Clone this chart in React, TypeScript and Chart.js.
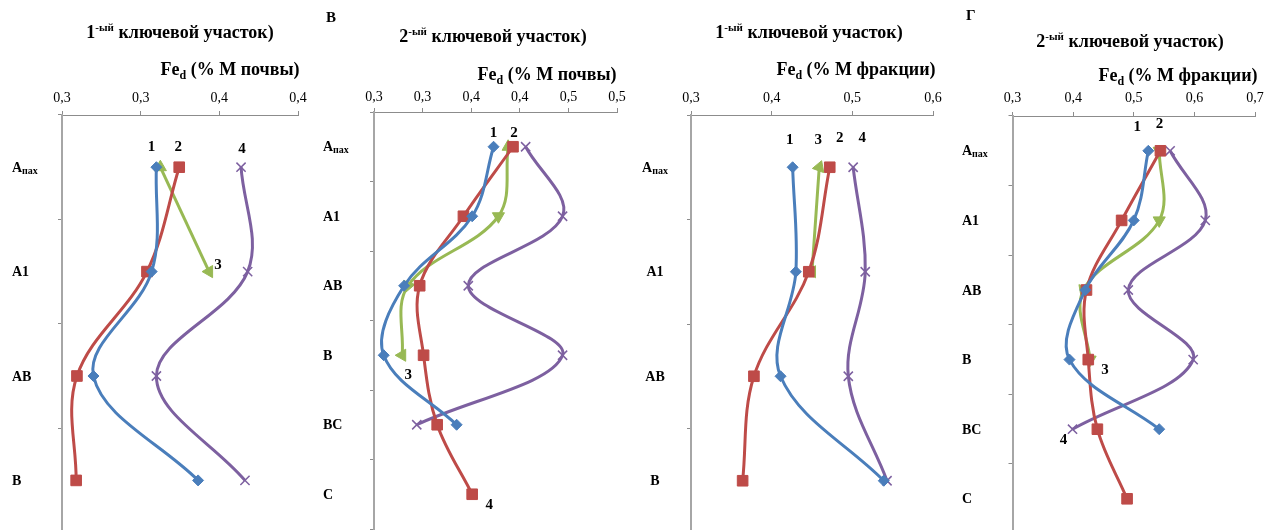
import React, { useEffect, useRef } from "react";
import { Chart, registerables } from "chart.js";

Chart.register(...registerables);

const BLUE = "#4A7EBB";
const RED = "#BE4B48";
const GREEN = "#98B954";
const PURPLE = "#7D60A0";
const AXIS = "#8C8C8C";
const SERIF = '"Liberation Serif", "Times New Roman", serif';
const CANVAS_H = 548;

// ---------- texts ----------
const TITLE_NUM_1 = "1";
const TITLE_NUM_2 = "2";
const TITLE_SUP = "-ый";
const TITLE_REST = " ключевой участок)";
const AXIS_FE = "Fe";
const AXIS_SUB = "d";
const AXIS_SOIL = " (% М почвы)";
const AXIS_FRACTION = " (% М фракции)";
const LETTER_V = "В";
const LETTER_G = "Г";

// ---------- panel 1: 1-ый участок, % М почвы ----------
const catsP1 = ["Aпах", "A1", "AB", "B"];
const p1s1 = [0.31, 0.307, 0.27, 0.3365];
const p1s2 = [0.3245, 0.304, 0.2595, 0.259];
const p1s3 = [0.3125, 0.3435, null, null];
const p1s4 = [0.3638, 0.368, 0.31, 0.3663];
const ticksP1 = ["0,3", "0,3", "0,4", "0,4"];

// ---------- panel 2 (В): 2-ый участок, % М почвы ----------
const catsP2 = ["Aпах", "A1", "AB", "B", "BC", "C"];
const p2s1 = [0.373, 0.351, 0.281, 0.26, 0.335, null];
const p2s2 = [0.393, 0.342, 0.297, 0.301, 0.315, 0.351];
const p2s3 = [0.388, 0.378, 0.285, 0.279, null, null];
const p2s4 = [0.406, 0.444, 0.347, 0.444, 0.294, null];
const ticksP2 = ["0,3", "0,3", "0,4", "0,4", "0,5", "0,5"];

// ---------- panel 3: 1-ый участок, % М фракции ----------
const catsP3 = ["Aпах", "A1", "AB", "B"];
const p3s1 = [0.426, 0.43, 0.411, 0.539];
const p3s2 = [0.472, 0.446, 0.378, 0.364];
const p3s3 = [0.459, 0.45, null, null];
const p3s4 = [0.501, 0.516, 0.495, 0.543];
const ticksP3 = ["0,3", "0,4", "0,5", "0,6"];

// ---------- panel 4 (Г): 2-ый участок, % М фракции ----------
const catsP4 = ["Aпах", "A1", "AB", "B", "BC", "C"];
const p4s1 = [0.524, 0.5, 0.42, 0.394, 0.542, null];
const p4s2 = [0.544, 0.48, 0.422, 0.425, 0.44, 0.489];
const p4s3 = [0.542, 0.542, 0.417, 0.428, null, null];
const p4s4 = [0.56, 0.618, 0.491, 0.598, 0.399, null];
const ticksP4 = ["0,3", "0,4", "0,5", "0,6", "0,7"];

type Note = { text: string; ds: number; idx: number; dx: number; dy: number };

type Panel = {
  canvasLeft: number;
  canvasWidth: number;
  areaLeft: number;
  areaRight: number;
  areaTop: number;
  areaBottom: number;
  tickPad: number;
  cats: string[];
  series: (number | null)[][];
  min: number;
  max: number;
  step: number;
  tickLabels: string[];
  greenRot: number[];
  labelX: number;
  labelAlign: "left" | "center";
  notes: Note[];
};

const panels: Panel[] = [
  {
    canvasLeft: 0,
    canvasWidth: 322,
    areaLeft: 62,
    areaRight: 298,
    areaTop: 115,
    areaBottom: 115 + 4 * 104.4,
    tickPad: 4,
    cats: catsP1,
    series: [p1s1, p1s2, p1s3, p1s4],
    min: 0.25,
    max: 0.4,
    step: 0.05,
    tickLabels: ticksP1,
    greenRot: [0, 150],
    labelX: 12,
    labelAlign: "left",
    notes: [
      { text: "1", ds: 0, idx: 0, dx: -5, dy: -20 },
      { text: "2", ds: 1, idx: 0, dx: -1, dy: -20 },
      { text: "4", ds: 3, idx: 0, dx: 1, dy: -18 },
      { text: "3", ds: 2, idx: 1, dx: 9, dy: -6 },
    ],
  },
  {
    canvasLeft: 318,
    canvasWidth: 324,
    areaLeft: 374,
    areaRight: 617,
    areaTop: 112,
    areaBottom: 112 + 6 * 69.5,
    tickPad: 2,
    cats: catsP2,
    series: [p2s1, p2s2, p2s3, p2s4],
    min: 0.25,
    max: 0.5,
    step: 0.05,
    tickLabels: ticksP2,
    greenRot: [0, 180, 200, 150],
    labelX: 323,
    labelAlign: "left",
    notes: [
      { text: "1", ds: 0, idx: 0, dx: 0, dy: -14 },
      { text: "2", ds: 1, idx: 0, dx: 1, dy: -14 },
      { text: "3", ds: 2, idx: 3, dx: 6, dy: 20 },
      { text: "4", ds: 1, idx: 5, dx: 17, dy: 11 },
    ],
  },
  {
    canvasLeft: 636,
    canvasWidth: 322,
    areaLeft: 691,
    areaRight: 933,
    areaTop: 115,
    areaBottom: 115 + 4 * 104.5,
    tickPad: 4,
    cats: catsP3,
    series: [p3s1, p3s2, p3s3, p3s4],
    min: 0.3,
    max: 0.6,
    step: 0.1,
    tickLabels: ticksP3,
    greenRot: [20, 150],
    labelX: 655,
    labelAlign: "center",
    notes: [
      { text: "1", ds: 0, idx: 0, dx: -3, dy: -27 },
      { text: "3", ds: 2, idx: 0, dx: -1, dy: -27 },
      { text: "2", ds: 1, idx: 0, dx: 10, dy: -29 },
      { text: "4", ds: 3, idx: 0, dx: 9, dy: -29 },
    ],
  },
  {
    canvasLeft: 955,
    canvasWidth: 330,
    areaLeft: 1012.5,
    areaRight: 1255,
    areaTop: 116,
    areaBottom: 116 + 6 * 69.6,
    tickPad: 5,
    cats: catsP4,
    series: [p4s1, p4s2, p4s3, p4s4],
    min: 0.3,
    max: 0.7,
    step: 0.1,
    tickLabels: ticksP4,
    greenRot: [180, 180, 200, 180],
    labelX: 962,
    labelAlign: "left",
    notes: [
      { text: "1", ds: 0, idx: 0, dx: -11, dy: -24 },
      { text: "2", ds: 1, idx: 0, dx: -1, dy: -27 },
      { text: "3", ds: 2, idx: 3, dx: 15, dy: 11 },
      { text: "4", ds: 3, idx: 4, dx: -9, dy: 11 },
    ],
  },
];

const seriesStyles = [
  { color: BLUE, pointStyle: "rectRot", radius: 5.5, pbw: 1 },
  { color: RED, pointStyle: "rect", radius: 7.5, pbw: 1 },
  { color: GREEN, pointStyle: "triangle", radius: 7, pbw: 1 },
  { color: PURPLE, pointStyle: "crossRot", radius: 6.5, pbw: 1.5 },
];

function PanelChart({ p }: { p: Panel }) {
  const ref = useRef<HTMLCanvasElement | null>(null);
  useEffect(() => {
    const canvas = ref.current;
    if (!canvas) return;
    const textPlugin = {
      id: "panelText",
      afterDatasetsDraw(chart: any) {
        const ctx = chart.ctx as CanvasRenderingContext2D;
        const ys = chart.scales.y;
        ctx.save();
        ctx.fillStyle = "#000";
        ctx.textBaseline = "middle";
        ctx.textAlign = "left";
        p.cats.forEach((lab, i) => {
          const y = ys.getPixelForValue(i) + 1;
          const m = /^([A-Z]+)([а-яё]+)$/.exec(lab);
          const main = m ? m[1] : lab;
          const sub = m ? m[2] : "";
          ctx.font = `bold 14px ${SERIF}`;
          const w1 = ctx.measureText(main).width;
          ctx.font = `bold 10px ${SERIF}`;
          const w2 = sub ? ctx.measureText(sub).width : 0;
          let x = p.labelX - p.canvasLeft;
          if (p.labelAlign === "center") x -= (w1 + w2) / 2;
          ctx.font = `bold 14px ${SERIF}`;
          ctx.fillText(main, x, y);
          if (sub) {
            ctx.font = `bold 10px ${SERIF}`;
            ctx.fillText(sub, x + w1, y + 3);
          }
        });
        ctx.font = `bold 15px ${SERIF}`;
        ctx.textAlign = "center";
        p.notes.forEach((n) => {
          const el = chart.getDatasetMeta(n.ds).data[n.idx];
          if (!el) return;
          ctx.fillText(n.text, el.x + n.dx, el.y + n.dy);
        });
        ctx.restore();
      },
    };

    const chart = new Chart(canvas, {
      type: "line",
      data: {
        labels: p.cats,
        datasets: p.series.map((vals, i) => {
          const st = seriesStyles[i];
          return {
            data: vals,
            borderColor: st.color,
            backgroundColor: st.color,
            borderWidth: 3,
            tension: 0.36,
            fill: false,
            pointStyle: st.pointStyle,
            pointRadius: st.radius,
            pointBackgroundColor: st.color,
            pointBorderColor: st.color,
            pointBorderWidth: st.pbw,
            pointRotation: i === 2 ? p.greenRot : 0,
          } as any;
        }),
      },
      options: {
        indexAxis: "y",
        responsive: false,
        animation: false,
        events: [],
        layout: {
          autoPadding: false,
          padding: {
            left: 0,
            top: 0,
            right: p.canvasLeft + p.canvasWidth - p.areaRight,
            bottom: CANVAS_H - p.areaBottom,
          },
        },
        plugins: {
          legend: { display: false },
          tooltip: { enabled: false },
          title: { display: false },
        },
        scales: {
          x: {
            type: "linear",
            position: "top",
            min: p.min,
            max: p.max,
            afterFit: (s: any) => {
              s.height = p.areaTop;
            },
            ticks: {
              stepSize: p.step,
              autoSkip: false,
              maxRotation: 0,
              padding: p.tickPad,
              color: "#000",
              font: { family: SERIF, size: 14 },
              callback: (_v: any, i: number) => p.tickLabels[i] ?? "",
            },
            grid: {
              drawOnChartArea: false,
              drawTicks: true,
              tickLength: 4,
              color: AXIS,
              lineWidth: 1,
            },
            border: { display: true, color: AXIS, width: 1 },
          },
          y: {
            type: "category",
            position: "left",
            offset: true,
            afterFit: (s: any) => {
              s.width = p.areaLeft - p.canvasLeft;
            },
            ticks: { display: false },
            grid: {
              offset: true,
              drawOnChartArea: false,
              drawTicks: true,
              tickLength: 4,
              color: AXIS,
              lineWidth: 1,
            },
            border: { display: true, color: "#A6A6A6", width: 2 },
          },
        },
      } as any,
      plugins: [textPlugin as any],
    });
    return () => chart.destroy();
  }, [p]);
  return (
    <canvas
      ref={ref}
      width={p.canvasWidth}
      height={CANVAS_H}
      style={{
        position: "absolute",
        left: p.canvasLeft,
        top: 0,
        width: p.canvasWidth,
        height: CANVAS_H,
      }}
    />
  );
}

const boldText: React.CSSProperties = {
  position: "absolute",
  fontFamily: SERIF,
  fontWeight: "bold",
  whiteSpace: "nowrap",
  color: "#000",
  lineHeight: 1,
};

function Title({ cx, cy, num }: { cx: number; cy: number; num: string }) {
  return (
    <div style={{ ...boldText, left: cx, top: cy - 10, fontSize: 18, transform: "translateX(-50%)" }}>
      {num}
      <span style={{ fontSize: 11, position: "relative", top: -7 }}>{TITLE_SUP}</span>
      {TITLE_REST}
    </div>
  );
}

function AxisTitle({ cx, cy, rest }: { cx: number; cy: number; rest: string }) {
  return (
    <div style={{ ...boldText, left: cx, top: cy - 10, fontSize: 18, transform: "translateX(-50%)" }}>
      {AXIS_FE}
      <span style={{ fontSize: 12, position: "relative", top: 4 }}>{AXIS_SUB}</span>
      {rest}
    </div>
  );
}

export default function App() {
  useEffect(() => {
    document.body.style.margin = "0";
    document.body.style.overflow = "hidden";
  }, []);
  return (
    <div
      style={{
        position: "fixed",
        left: 0,
        top: 0,
        width: 1264,
        height: 530,
        overflow: "hidden",
        background: "#fff",
      }}
    >
      {panels.map((p, i) => (
        <PanelChart key={i} p={p} />
      ))}
      <Title cx={180} cy={33} num={TITLE_NUM_1} />
      <Title cx={493} cy={37} num={TITLE_NUM_2} />
      <Title cx={809} cy={33} num={TITLE_NUM_1} />
      <Title cx={1130} cy={42} num={TITLE_NUM_2} />
      <AxisTitle cx={230} cy={70} rest={AXIS_SOIL} />
      <AxisTitle cx={547} cy={75} rest={AXIS_SOIL} />
      <AxisTitle cx={856} cy={70} rest={AXIS_FRACTION} />
      <AxisTitle cx={1178} cy={76} rest={AXIS_FRACTION} />
      <div style={{ ...boldText, left: 326, top: 10, fontSize: 15 }}>{LETTER_V}</div>
      <div style={{ ...boldText, left: 966, top: 8, fontSize: 15 }}>{LETTER_G}</div>
    </div>
  );
}
